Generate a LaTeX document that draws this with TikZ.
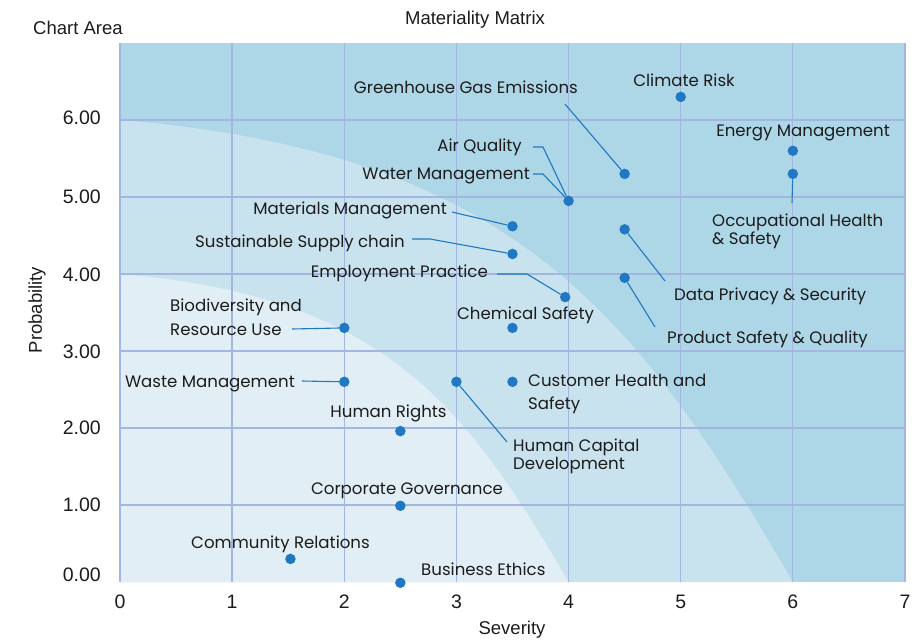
\documentclass[tikz,border=0pt]{standalone}
\usepackage{fontspec}
\setmainfont{Liberation Sans}
\newfontfamily\lblfont{Poppins}
\definecolor{zoneHi}{HTML}{ADD6E6}
\definecolor{zoneMid}{HTML}{C8E3EE}
\definecolor{zoneLo}{HTML}{E1EEF5}
\definecolor{gridc}{HTML}{A3B6E2}
\definecolor{dotc}{HTML}{1F78C1}
\definecolor{txt}{HTML}{1C1C1C}
\begin{document}
\begin{tikzpicture}[x=1pt,y=-1pt,
  dot/.style={circle,fill=dotc,inner sep=0pt,minimum size=10.5pt},
  leader/.style={draw=dotc,line width=1.1pt},
  lbl/.style={font=\lblfont\fontsize{16.6}{24}\selectfont,text=txt,inner sep=0pt},
  axl/.style={font=\fontsize{18.5}{22}\selectfont,text=txt,inner sep=0pt},
  tickl/.style={font=\fontsize{19.5}{22}\selectfont,text=txt,inner sep=0pt},
  gridline/.style={draw=gridc,line width=1.3pt}]
\fill[white] (0,0) rectangle (913,643);
\useasboundingbox (0,0) rectangle (913,643);
\begin{scope}[shift={(120,582)},x=112.14pt,y=77pt]
  \fill[zoneHi] (0,0) rectangle (7,7);
  \fill[zoneMid] (0,0) -- (0,6) .. controls (3.5,5.58) and (4.6,3.5) .. (6,0) -- cycle;
  \fill[zoneLo] (0,0) -- (0,4) .. controls (2.33,3.72) and (3.07,2.33) .. (4,0) -- cycle;
  \foreach \i in {0,...,7} \draw[gridline] (\i,0) -- (\i,7);
  \foreach \j in {1,...,6} \draw[gridline] (0,\j) -- (7,\j);
  \node[dot] (ghg) at (4.5,5.3) {};
  \node[dot] (cr) at (5,6.3) {};
  \node[dot] (em) at (6,5.6) {};
  \node[dot] (ohs) at (6,5.3) {};
  \node[dot] (aw) at (4,4.95) {};
  \node[dot] (mm) at (3.5,4.62) {};
  \node[dot] (ssc) at (3.5,4.26) {};
  \node[dot] (ep) at (3.97,3.7) {};
  \node[dot] (dp) at (4.5,4.58) {};
  \node[dot] (ps) at (4.5,3.95) {};
  \node[dot] (cs) at (3.5,3.3) {};
  \node[dot] (bio) at (2,3.3) {};
  \node[dot] (ws) at (2,2.6) {};
  \node[dot] (hc) at (3,2.6) {};
  \node[dot] (ch) at (3.5,2.6) {};
  \node[dot] (hr) at (2.5,1.96) {};
  \node[dot] (cg) at (2.5,0.99) {};
  \node[dot] (com) at (1.52,0.3) {};
  \node[dot] (be) at (2.5,-0.01) {};
\end{scope}
% axis ticks
\foreach \i in {0,...,7} \node[tickl] (xt\i) at (120+112.14*\i,602) {\i};
\node[tickl,anchor=east] (yt6) at (101,118) {6.00};
\node[tickl,anchor=east] (yt5) at (101,197) {5.00};
\node[tickl,anchor=east] (yt4) at (101,275) {4.00};
\node[tickl,anchor=east] (yt3) at (101,352) {3.00};
\node[tickl,anchor=east] (yt2) at (101,428) {2.00};
\node[tickl,anchor=east] (yt1) at (101,505) {1.00};
\node[tickl,anchor=east] (yt0) at (101,575) {0.00};
% titles
\node[axl,anchor=base west] (ca) at (33,34.5) {Chart Area};
\node[axl,anchor=base] (title) at (475,24.5) {Materiality Matrix};
\node[axl,rotate=90] (ylab) at (37,310) {Probability};
\node[axl] (xlab) at (512,630) {Severity};
% labels
\node[lbl,anchor=base east] (ghgL) at (578,93) {Greenhouse Gas Emissions};
\node[lbl,anchor=base] (crL) at (684,86) {Climate Risk};
\node[lbl,anchor=base east] (emL) at (890,136) {Energy Management};
\node[lbl,anchor=base east] (aqL) at (522,151) {Air Quality};
\node[lbl,anchor=base east] (wmL) at (530,179) {Water Management};
\node[lbl,anchor=base east] (mmL) at (447,214) {Materials Management};
\node[lbl,anchor=base east] (sscL) at (405,247) {Sustainable Supply chain};
\node[lbl,anchor=base east] (epL) at (488,277) {Employment Practice};
\node[lbl,anchor=north west,align=left,font=\lblfont\fontsize{16.6}{18}\selectfont] (ohsL) at (712,213.5) {Occupational Health\\\& Safety};
\node[lbl,anchor=base west] (dpL) at (674,300) {Data Privacy \& Security};
\node[lbl,anchor=base west] (psL) at (667,343) {Product Safety \& Quality};
\node[lbl,anchor=base] (csL) at (525.5,319) {Chemical Safety};
\node[lbl,anchor=north west,align=left] (bioL) at (170,298.5) {Biodiversity and\\Resource Use};
\node[lbl,anchor=base east] (wsL) at (295,387) {Waste Management};
\node[lbl,anchor=north west,align=left,font=\lblfont\fontsize{16.6}{18}\selectfont] (hcL) at (513,438.5) {Human Capital\\Development};
\node[lbl,anchor=north west,align=left,font=\lblfont\fontsize{16.6}{23}\selectfont] (chL) at (528,374.5) {Customer Health and\\Safety};
\node[lbl,anchor=base] (hrL) at (388.5,417) {Human Rights};
\node[lbl,anchor=base] (cgL) at (407,494) {Corporate Governance};
\node[lbl,anchor=base] (comL) at (280.5,548) {Community Relations};
\node[lbl,anchor=base west] (beL) at (421,575) {Business Ethics};
% leader points
\coordinate (ghgS) at (565,104);
\coordinate (aqS) at (533,147); \coordinate (aqB) at (543,147);
\coordinate (wmS) at (533,174); \coordinate (wmB) at (543,174);
\coordinate (mmS) at (452,212);
\coordinate (sscS) at (412,239); \coordinate (sscB) at (430,239);
\coordinate (epS) at (497,274); \coordinate (epB) at (527,274);
\coordinate (ohsE) at (792,203);
\coordinate (dpE) at (665,281);
\coordinate (psE) at (655,327);
\coordinate (bioS) at (292,329);
\coordinate (wsS) at (302,381);
\coordinate (hcE) at (507,442);
\draw[leader] (ghgS) -- (ghg);
\draw[leader] (aqS) -- (aqB) -- (aw);
\draw[leader] (wmS) -- (wmB) -- (aw);
\draw[leader] (mmS) -- (mm);
\draw[leader] (sscS) -- (sscB) -- (ssc);
\draw[leader] (epS) -- (epB) -- (ep);
\draw[leader] (ohs) -- (ohsE);
\draw[leader] (dp) -- (dpE);
\draw[leader] (ps) -- (psE);
\draw[leader] (bioS) -- (bio);
\draw[leader] (wsS) -- (ws);
\draw[leader] (hc) -- (hcE);
\end{tikzpicture}
\end{document}
